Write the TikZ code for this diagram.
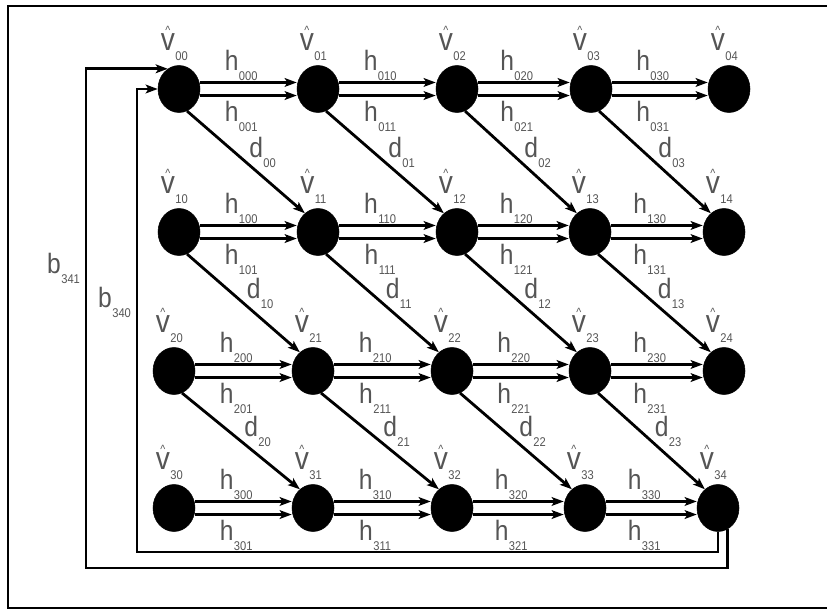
\documentclass[tikz,border=0pt]{standalone}
\usepackage{fontspec}
\setmainfont{Liberation Sans}[FakeStretch=0.88]
\usepackage{tikz}
\usetikzlibrary{arrows.meta,shapes.geometric}
\definecolor{ink}{HTML}{555555}
% letter with a lowered index, and v with a small hat
\newcommand{\lsub}[2]{#1\kern0.3pt\raisebox{-7.5pt}{\fontsize{9.5pt}{9.5pt}\selectfont #2}}
\newcommand{\vhat}{{\fontsize{24pt}{26pt}\selectfont\ooalign{v\cr\hidewidth\raisebox{12pt}{\fontsize{9pt}{9pt}\selectfont\textasciicircum}\hidewidth\cr}}}

\begin{document}
\begin{tikzpicture}[
  x=0.75pt,y=-0.75pt,
  every node/.style={font=\fontsize{21pt}{23pt}\selectfont,text=ink},
  vtx/.style={ellipse,fill=black,draw=black,inner sep=0pt,minimum width=31.5pt,minimum height=35.25pt},
  vlab/.style={inner sep=0pt,xshift=-3.5pt,label distance=3pt},
  arr/.style={-{Stealth[length=9pt,width=6.5pt,inset=2pt]},line width=2.1pt,draw=black},
  hup/.style={anchor=south,inner sep=0pt,xshift=-5.5pt,yshift=0.5pt},
  hdn/.style={anchor=north,inner sep=0pt,xshift=-5.5pt,yshift=-3pt},
  dlab/.style={anchor=south west,inner sep=0pt,xshift=1.5pt,yshift=-5pt},
  blab/.style={anchor=east,inner sep=0pt,xshift=-3.5pt},
  frame/.style={line width=2.2pt,draw=black}
]
\useasboundingbox (0,0) rectangle (827,610);
\draw[frame] (8,6) rectangle (840,608);

% row 0
\node[vtx,label={[vlab]above:\lsub{\vhat}{00}}] (v00) at (179,89) {};
\node[vtx,label={[vlab]above:\lsub{\vhat}{01}}] (v01) at (318,89) {};
\node[vtx,label={[vlab]above:\lsub{\vhat}{02}}] (v02) at (457,89) {};
\node[vtx,label={[vlab]above:\lsub{\vhat}{03}}] (v03) at (591,89) {};
\node[vtx,label={[vlab]above:\lsub{\vhat}{04}}] (v04) at (729,89) {};
% row 1
\node[vtx,label={[vlab]above:\lsub{\vhat}{10}}] (v10) at (179,232) {};
\node[vtx,label={[vlab]above:\lsub{\vhat}{11}}] (v11) at (318,232) {};
\node[vtx,label={[vlab]above:\lsub{\vhat}{12}}] (v12) at (457,232) {};
\node[vtx,label={[vlab]above:\lsub{\vhat}{13}}] (v13) at (590,232) {};
\node[vtx,label={[vlab]above:\lsub{\vhat}{14}}] (v14) at (724,232) {};
% row 2
\node[vtx,label={[vlab]above:\lsub{\vhat}{20}}] (v20) at (174,371) {};
\node[vtx,label={[vlab]above:\lsub{\vhat}{21}}] (v21) at (313,371) {};
\node[vtx,label={[vlab]above:\lsub{\vhat}{22}}] (v22) at (452,371) {};
\node[vtx,label={[vlab]above:\lsub{\vhat}{23}}] (v23) at (590,371) {};
\node[vtx,label={[vlab]above:\lsub{\vhat}{24}}] (v24) at (724,371) {};
% row 3
\node[vtx,label={[vlab]above:\lsub{\vhat}{30}}] (v30) at (174,508) {};
\node[vtx,label={[vlab]above:\lsub{\vhat}{31}}] (v31) at (313,508) {};
\node[vtx,label={[vlab]above:\lsub{\vhat}{32}}] (v32) at (452,508) {};
\node[vtx,label={[vlab]above:\lsub{\vhat}{33}}] (v33) at (585,508) {};
\node[vtx,label={[vlab]above:\lsub{\vhat}{34}}] (v34) at (718,508) {};

% horizontal pairs
\draw[arr] ([yshift=4.9pt]v00.east) -- node[hup]{\lsub{h}{000}} ([yshift=4.9pt]v01.west);
\draw[arr] ([yshift=-4.9pt]v00.east) -- node[hdn]{\lsub{h}{001}} ([yshift=-4.9pt]v01.west);
\draw[arr] ([yshift=4.9pt]v01.east) -- node[hup]{\lsub{h}{010}} ([yshift=4.9pt]v02.west);
\draw[arr] ([yshift=-4.9pt]v01.east) -- node[hdn]{\lsub{h}{011}} ([yshift=-4.9pt]v02.west);
\draw[arr] ([yshift=4.9pt]v02.east) -- node[hup]{\lsub{h}{020}} ([yshift=4.9pt]v03.west);
\draw[arr] ([yshift=-4.9pt]v02.east) -- node[hdn]{\lsub{h}{021}} ([yshift=-4.9pt]v03.west);
\draw[arr] ([yshift=4.9pt]v03.east) -- node[hup]{\lsub{h}{030}} ([yshift=4.9pt]v04.west);
\draw[arr] ([yshift=-4.9pt]v03.east) -- node[hdn]{\lsub{h}{031}} ([yshift=-4.9pt]v04.west);

\draw[arr] ([yshift=4.9pt]v10.east) -- node[hup]{\lsub{h}{100}} ([yshift=4.9pt]v11.west);
\draw[arr] ([yshift=-4.9pt]v10.east) -- node[hdn]{\lsub{h}{101}} ([yshift=-4.9pt]v11.west);
\draw[arr] ([yshift=4.9pt]v11.east) -- node[hup]{\lsub{h}{110}} ([yshift=4.9pt]v12.west);
\draw[arr] ([yshift=-4.9pt]v11.east) -- node[hdn]{\lsub{h}{111}} ([yshift=-4.9pt]v12.west);
\draw[arr] ([yshift=4.9pt]v12.east) -- node[hup]{\lsub{h}{120}} ([yshift=4.9pt]v13.west);
\draw[arr] ([yshift=-4.9pt]v12.east) -- node[hdn]{\lsub{h}{121}} ([yshift=-4.9pt]v13.west);
\draw[arr] ([yshift=4.9pt]v13.east) -- node[hup]{\lsub{h}{130}} ([yshift=4.9pt]v14.west);
\draw[arr] ([yshift=-4.9pt]v13.east) -- node[hdn]{\lsub{h}{131}} ([yshift=-4.9pt]v14.west);

\draw[arr] ([yshift=4.9pt]v20.east) -- node[hup]{\lsub{h}{200}} ([yshift=4.9pt]v21.west);
\draw[arr] ([yshift=-4.9pt]v20.east) -- node[hdn]{\lsub{h}{201}} ([yshift=-4.9pt]v21.west);
\draw[arr] ([yshift=4.9pt]v21.east) -- node[hup]{\lsub{h}{210}} ([yshift=4.9pt]v22.west);
\draw[arr] ([yshift=-4.9pt]v21.east) -- node[hdn]{\lsub{h}{211}} ([yshift=-4.9pt]v22.west);
\draw[arr] ([yshift=4.9pt]v22.east) -- node[hup]{\lsub{h}{220}} ([yshift=4.9pt]v23.west);
\draw[arr] ([yshift=-4.9pt]v22.east) -- node[hdn]{\lsub{h}{221}} ([yshift=-4.9pt]v23.west);
\draw[arr] ([yshift=4.9pt]v23.east) -- node[hup]{\lsub{h}{230}} ([yshift=4.9pt]v24.west);
\draw[arr] ([yshift=-4.9pt]v23.east) -- node[hdn]{\lsub{h}{231}} ([yshift=-4.9pt]v24.west);

\draw[arr] ([yshift=4.9pt]v30.east) -- node[hup]{\lsub{h}{300}} ([yshift=4.9pt]v31.west);
\draw[arr] ([yshift=-4.9pt]v30.east) -- node[hdn]{\lsub{h}{301}} ([yshift=-4.9pt]v31.west);
\draw[arr] ([yshift=4.9pt]v31.east) -- node[hup]{\lsub{h}{310}} ([yshift=4.9pt]v32.west);
\draw[arr] ([yshift=-4.9pt]v31.east) -- node[hdn]{\lsub{h}{311}} ([yshift=-4.9pt]v32.west);
\draw[arr] ([yshift=4.9pt]v32.east) -- node[hup]{\lsub{h}{320}} ([yshift=4.9pt]v33.west);
\draw[arr] ([yshift=-4.9pt]v32.east) -- node[hdn]{\lsub{h}{321}} ([yshift=-4.9pt]v33.west);
\draw[arr] ([yshift=4.9pt]v33.east) -- node[hup]{\lsub{h}{330}} ([yshift=4.9pt]v34.west);
\draw[arr] ([yshift=-4.9pt]v33.east) -- node[hdn]{\lsub{h}{331}} ([yshift=-4.9pt]v34.west);

% diagonals
\draw[arr] (v00.-70) -- node[dlab]{\lsub{d}{00}} (v11.125);
\draw[arr] (v01.-70) -- node[dlab]{\lsub{d}{01}} (v12.125);
\draw[arr] (v02.-70) -- node[dlab]{\lsub{d}{02}} (v13.125);
\draw[arr] (v03.-70) -- node[dlab]{\lsub{d}{03}} (v14.125);
\draw[arr] (v10.-70) -- node[dlab]{\lsub{d}{10}} (v21.125);
\draw[arr] (v11.-70) -- node[dlab]{\lsub{d}{11}} (v22.125);
\draw[arr] (v12.-70) -- node[dlab]{\lsub{d}{12}} (v23.125);
\draw[arr] (v13.-70) -- node[dlab]{\lsub{d}{13}} (v24.125);
\draw[arr] (v20.-70) -- node[dlab]{\lsub{d}{20}} (v31.125);
\draw[arr] (v21.-70) -- node[dlab]{\lsub{d}{21}} (v32.125);
\draw[arr] (v22.-70) -- node[dlab]{\lsub{d}{22}} (v33.125);
\draw[arr] (v23.-70) -- node[dlab]{\lsub{d}{23}} (v34.125);

% back edges
\coordinate (c341) at (86,568);
\coordinate (c340) at (137,552);
\draw[arr] (v34.-65) |- (c341) |- node[pos=0.3,blab]{\lsub{b}{341}} (v00.119);
\draw[arr] (v34.south) |- (c340) |- node[pos=0.27,blab]{\lsub{b}{340}} (v00.west);
\end{tikzpicture}
\end{document}
